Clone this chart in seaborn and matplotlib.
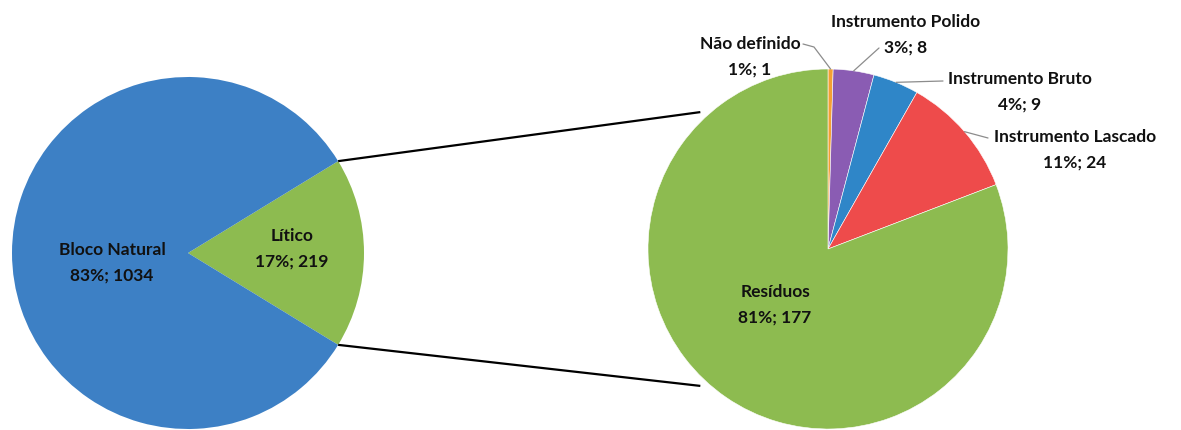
import numpy as np
import matplotlib
matplotlib.use("Agg")
import matplotlib.pyplot as plt
import seaborn as sns

# ---- data ----
main_labels = ["Lítico", "Bloco Natural"]
main_values = [219, 1034]
main_pcts = ["17%", "83%"]

sub_labels = ["Não definido", "Instrumento Polido", "Instrumento Bruto",
              "Instrumento Lascado", "Resíduos"]
sub_values = [1, 8, 9, 24, 177]
sub_pcts = ["1%", "3%", "4%", "11%", "81%"]

main_colors = ["#8DBB50", "#3D80C5"]
sub_colors = ["#F5A033", "#8A5CB3", "#2F86C8", "#EE4B4B", "#8DBB50"]

sns.set_theme(style="white")
plt.rcParams['font.family'] = ['Lato', 'DejaVu Sans']

W, H = 1181, 430
fig = plt.figure(figsize=(W / 100, H / 100), dpi=100)
ax = fig.add_axes([0, 0, 1, 1])

def Y(y):
    return H - y

# pie geometry
c1 = (188, Y(253)); r1 = 176
c2 = (828, Y(249)); r2 = 180

half = 0.5 * 360 * main_values[0] / sum(main_values)
ax.pie(main_values, colors=main_colors, startangle=-half, counterclock=True,
       center=c1, radius=r1, wedgeprops=dict(linewidth=0))
ax.pie(sub_values, colors=sub_colors, startangle=90, counterclock=False,
       center=c2, radius=r2, wedgeprops=dict(linewidth=0.4, edgecolor="white"))

# connector lines
for s in (1, -1):
    a = np.deg2rad(s * half)
    b = np.deg2rad(s * 133)
    p1 = (c1[0] + r1 * np.cos(a), c1[1] + r1 * np.sin(a))
    p2 = (c2[0] + 1.04 * r2 * np.cos(b), c2[1] + 1.04 * r2 * np.sin(b))
    ax.plot([p1[0], p2[0]], [p1[1], p2[1]], color="black", lw=1.6,
            solid_capstyle="butt")

fs = 12.5
kw = dict(fontsize=fs, fontweight="bold", ha="center", va="center",
          linespacing=1.75, color="#111111")

# main labels
ax.text(112, Y(263), f"{main_labels[1]}\n{main_pcts[1]}; {main_values[1]}", **kw)
ax.text(292, Y(249), f"{main_labels[0]}\n{main_pcts[0]}; {main_values[0]}", **kw)

# sub labels
ax.text(775, Y(305), f"{sub_labels[4]}\n{sub_pcts[4]}; {sub_values[4]}", **kw)
sub_pos = [(750, 57), (906, 35), (1020, 92), (1075, 150)]
for i, (x, y) in enumerate(sub_pos):
    ax.text(x, Y(y), f"{sub_labels[i]}\n{sub_pcts[i]}; {sub_values[i]}", **kw)

# leader lines
lc = dict(color="#8c8c8c", lw=0.9)
cum = np.cumsum([0] + sub_values)
tot = sum(sub_values)
def edge_pt(i, f=1.0):
    mid = 90 - 360 * (cum[i] + sub_values[i] / 2) / tot
    m = np.deg2rad(mid)
    return (c2[0] + f * r2 * np.cos(m), c2[1] + f * r2 * np.sin(m))
p = edge_pt(0)
ax.plot([803, 814, p[0]], [Y(44), Y(47), p[1]], **lc)
p = edge_pt(1)
ax.plot([879, p[0]], [Y(48), p[1]], **lc)
p = edge_pt(2)
ax.plot([943, p[0]], [Y(81), p[1]], **lc)
p = edge_pt(3)
ax.plot([988, p[0]], [Y(138), p[1]], **lc)

ax.set_xlim(0, W)
ax.set_ylim(0, H)
ax.set_aspect("equal")
ax.axis("off")
fig.savefig("out.png", dpi=100, facecolor="white")
